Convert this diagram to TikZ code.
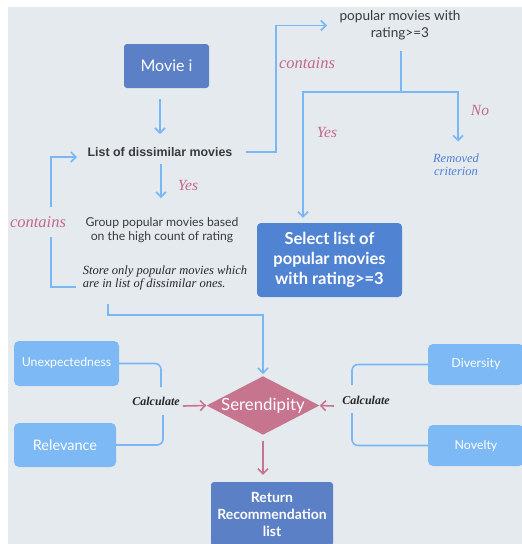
\documentclass[tikz,border=0pt]{standalone}
\usepackage{fontspec}
\setmainfont{Lato}
\newfontfamily\helv{Liberation Sans}
\newfontfamily\tms{Liberation Serif}
\usetikzlibrary{arrows.meta,calc,shapes.geometric}
\definecolor{bgc}{HTML}{E5EAEF}
\definecolor{boxdark}{HTML}{5B80C6}
\definecolor{boxsel}{HTML}{5183D3}
\definecolor{boxlight}{HTML}{7DB9F5}
\definecolor{linec}{HTML}{7AB8F5}
\definecolor{pinkc}{HTML}{C7758F}
\definecolor{pinktext}{HTML}{C4688A}
\definecolor{bluetext}{HTML}{4F7FD6}
\definecolor{textdark}{HTML}{3A3A3A}
\tikzset{
  darkbox/.style={fill=boxdark, rounded corners=3pt, text=white, align=center, inner sep=0pt},
  selbox/.style={fill=boxsel, rounded corners=4pt, text=white, align=center, inner sep=0pt,
    font=\bfseries\fontsize{16.5}{20}\selectfont},
  lightbox/.style={fill=boxlight, rounded corners=5pt, text=white, align=center, inner sep=0pt,
    font=\fontsize{12.5}{15}\selectfont},
  flow/.style={draw=linec, line width=1.6pt},
  arr/.style={flow, -{Straight Barb[length=5pt,width=10pt,line width=1.6pt]}},
  parr/.style={draw=pinkc, line width=1.6pt, -{Straight Barb[length=5pt,width=10pt,line width=1.6pt]}},
  pinklbl/.style={text=pinktext, font=\tms\itshape\fontsize{15.5}{17}\selectfont, inner sep=1pt},
  calclbl/.style={text=black!85, font=\tms\bfseries\itshape\fontsize{12}{13}\selectfont, inner sep=1pt},
}
\begin{document}
\begin{tikzpicture}[x=1pt,y=-1pt]
\useasboundingbox (0,0) rectangle (522,544);
\fill[bgc] (8,7) rectangle (540,560);

% upper flow
\node[darkbox, minimum width=85pt, minimum height=44pt, font=\fontsize{16}{19}\selectfont] (movie) at (166.5,66) {Movie i};
\node[text=textdark, font=\helv\bfseries\fontsize{12.4}{14}\selectfont] (list) at (160,152) {List of dissimilar movies};
\node[text=textdark, align=center, font=\fontsize{13.6}{17}\selectfont] (pop) at (400,25.5) {popular movies with\\rating>=3};
\node[text=bluetext, align=center, font=\tms\itshape\fontsize{12.5}{13.5}\selectfont] (removed) at (456,164.5) {Removed\\criterion};
\node[selbox, minimum width=145pt, minimum height=74pt] (select) at (329.5,260) {Select list of\\popular movies\\with rating>=3};
\node[text=textdark, align=center, font=\fontsize{12.2}{14.5}\selectfont] (group) at (162,230) {Group popular movies based\\on the high count of rating};
\node[text=black!85, align=left, font=\tms\itshape\fontsize{12.5}{13}\selectfont] (store) at (165,277.5) {Store only popular movies which\\are in list of dissimilar ones.};

% lower flow
\node[diamond, fill=pinkc, aspect=1.93, minimum width=110pt, minimum height=57pt, inner sep=0pt,
  text=white, font=\fontsize{16.8}{19}\selectfont] (ser) at (263,405.5) {Serendipity};
\node[lightbox, minimum width=105pt, minimum height=45pt, font=\fontsize{12.3}{15}\selectfont] (unexp) at (66.5,363.5) {Unexpectedness};
\node[lightbox, minimum width=102pt, minimum height=44pt, font=\fontsize{14.5}{16}\selectfont] (relev) at (65,445) {Relevance};
\node[lightbox, minimum width=96pt, minimum height=41pt] (divers) at (476,364.5) {Diversity};
\node[lightbox, minimum width=96pt, minimum height=41pt, font=\fontsize{12.4}{15}\selectfont] (novel) at (476,445.5) {Novelty};
\node[darkbox, minimum width=122pt, minimum height=64pt, font=\bfseries\fontsize{14}{17}\selectfont] (ret) at (272,514) {Return\\Recommendation\\list};
\node[calclbl] (calcL) at (156,401) {Calculate};
\node[calclbl] (calcR) at (366,400) {Calculate};

% connectors, upper part
\draw[arr] ($(movie.south -| list.north)+(0,11)$) -- ($(list)+(0,-18)$);
\draw[arr] ($(list)+(86,0)$) -| ($(pop)+(-124,0)$) -- ($(pop)+(-73,0)$);
\coordinate (split) at ($(pop)+(1,66.5)$);
\draw[flow] ($(pop)+(1,25.5)$) -- (split);
\draw[arr] (split) -| ($(select.north)+(-26.5,-5)$);
\draw[arr] (split) -| ($(removed)+(2,-23)$);
\draw[arr] ($(list)+(1,12)$) -- ($(group)+(-1,-32)$);
\draw[arr] ($(store)+(-89,9.5)$) -| ($(list)+(-109,5)$) -- ($(list)+(-83,5)$);
\draw[arr] ($(store)+(-57,26.5)$) -- ($(store)+(-57,37.5)$) -| ($(ser.north)+(0,-2)$);

% branch labels
\node[pinklbl, font=\tms\itshape\fontsize{16.5}{17}\selectfont] (lblcontA) at (307,63) {contains};
\node[pinklbl, font=\tms\itshape\fontsize{16.5}{17}\selectfont, fill=bgc, inner ysep=9pt] (lblcontB) at (38,222) {contains};
\node[pinklbl] (lblyesA) at (327,132) {Yes};
\node[pinklbl] (lblno) at (480,110) {No};
\node[pinklbl] (lblyesB) at (188,185) {Yes};

% connectors, lower part
\draw[flow, rounded corners=6pt] (unexp.east) -| ($(calcL)+(5,-14)$);
\draw[flow, rounded corners=6pt] (relev.east) -| ($(calcL)+(7,14)$);
\draw[parr] ($(calcL)+(27,5)$) -- (ser.west);
\draw[flow, rounded corners=6pt] (divers.west) -| ($(calcR)+(-14,-15)$);
\draw[flow, rounded corners=6pt] (novel.west) -| ($(calcR)+(-14,13)$);
\draw[parr] ($(calcR)+(-32,6)$) -- (ser.east);
\draw[parr] ($(ser.south)+(0,6)$) -- ($(ser.south |- ret.north)+(0,-7)$);
\end{tikzpicture}
\end{document}
